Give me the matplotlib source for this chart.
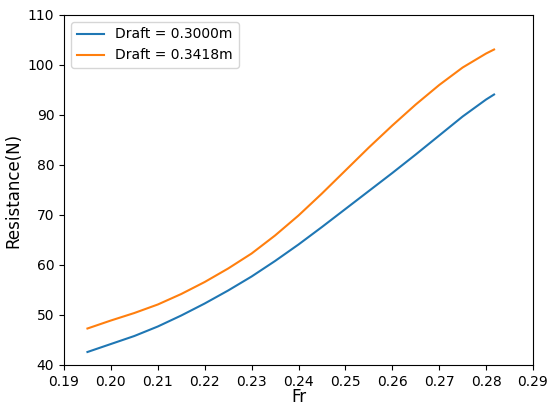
import matplotlib
matplotlib.use("Agg")
import matplotlib.pyplot as plt

fr = [0.195, 0.200, 0.205, 0.210, 0.215, 0.220, 0.225, 0.230, 0.235, 0.240,
      0.245, 0.250, 0.255, 0.260, 0.265, 0.270, 0.275, 0.280, 0.2817]
res_300 = [42.6, 44.2, 45.8, 47.7, 49.9, 52.3, 54.9, 57.7, 60.8, 64.1,
           67.6, 71.2, 74.8, 78.4, 82.1, 85.9, 89.7, 93.1, 94.1]
res_342 = [47.3, 48.9, 50.4, 52.1, 54.2, 56.6, 59.3, 62.3, 65.9, 69.9,
           74.3, 78.9, 83.5, 87.9, 92.1, 96.0, 99.5, 102.3, 103.1]
labels = ["Draft = 0.3000m", "Draft = 0.3418m"]

fig = plt.figure(figsize=(5.49, 4.05), dpi=100)
ax = fig.add_axes([64 / 549, 40 / 405, 469 / 549, 350 / 405])
ax.plot(fr, res_300, color="#1f77b4", label=labels[0])
ax.plot(fr, res_342, color="#ff7f0e", label=labels[1])
ax.set_xlim(0.19, 0.29)
ax.set_ylim(40, 110)
ax.set_xticks([0.19, 0.20, 0.21, 0.22, 0.23, 0.24, 0.25, 0.26, 0.27, 0.28, 0.29])
ax.set_xticklabels(["0.19", "0.20", "0.21", "0.22", "0.23", "0.24", "0.25", "0.26", "0.27", "0.28", "0.29"])
ax.set_xlabel("Fr", fontsize=12, labelpad=-0.7)
ax.set_ylabel("Resistance(N)", fontsize=12)
ax.legend(loc="upper left")
fig.savefig("out.png", dpi=100)
